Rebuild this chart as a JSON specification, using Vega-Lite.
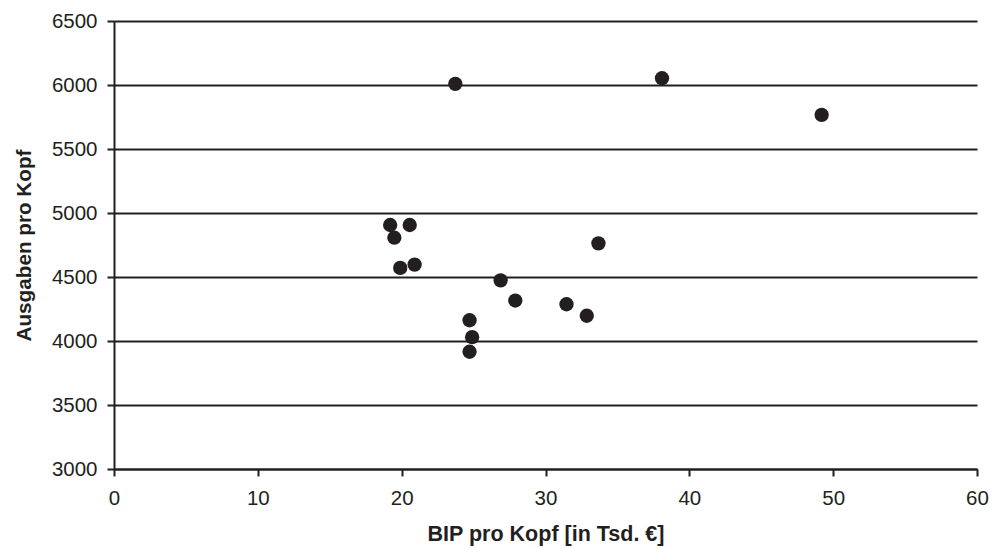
{
  "$schema": "https://vega.github.io/schema/vega-lite/v6.json",
  "autosize": "none",
  "width": 863,
  "height": 448,
  "padding": {"left": 114, "top": 21, "right": 15, "bottom": 79},
  "background": "white",
  "config": {"view": {"stroke": null}, "font": "Liberation Sans"},
  "data": {"values": [
    {"bip": 23.73, "ausgaben": 6009},
    {"bip": 38.1, "ausgaben": 6053},
    {"bip": 49.2, "ausgaben": 5767},
    {"bip": 19.2, "ausgaben": 4906},
    {"bip": 20.56, "ausgaben": 4906},
    {"bip": 19.49, "ausgaben": 4807},
    {"bip": 19.9, "ausgaben": 4571},
    {"bip": 20.9, "ausgaben": 4597},
    {"bip": 33.68, "ausgaben": 4763},
    {"bip": 26.88, "ausgaben": 4474},
    {"bip": 27.9, "ausgaben": 4316},
    {"bip": 31.46, "ausgaben": 4287},
    {"bip": 32.87, "ausgaben": 4197},
    {"bip": 24.72, "ausgaben": 4162},
    {"bip": 24.9, "ausgaben": 4030},
    {"bip": 24.72, "ausgaben": 3916}
  ]},
  "mark": {"type": "point", "filled": true, "shape": "circle", "size": 205, "color": "#231f20", "opacity": 1},
  "encoding": {
    "x": {
      "field": "bip", "type": "quantitative",
      "scale": {"domain": [0, 60], "nice": false, "zero": false},
      "axis": {
        "values": [0, 10, 20, 30, 40, 50, 60],
        "labelFlush": false,
        "labelOverlap": false,
        "title": "BIP pro Kopf [in Tsd. €]",
        "titleFont": "Liberation Sans", "titleFontSize": 21.5, "titleFontWeight": "bold", "titleColor": "#231f20",
        "titlePadding": 15,
        "labelFont": "Liberation Sans", "labelFontSize": 20.5, "labelColor": "#231f20", "labelPadding": 12,
        "domainColor": "#231f20", "domainWidth": 2,
        "tickColor": "#231f20", "tickWidth": 2, "tickSize": 7,
        "grid": false
      }
    },
    "y": {
      "field": "ausgaben", "type": "quantitative",
      "scale": {"domain": [3000, 6500], "nice": false, "zero": false},
      "axis": {
        "values": [3000, 3500, 4000, 4500, 5000, 5500, 6000, 6500],
        "format": "d",
        "labelFlush": false,
        "labelOverlap": false,
        "title": "Ausgaben pro Kopf",
        "titleFont": "Liberation Sans", "titleFontSize": 20.7, "titleFontWeight": "bold", "titleColor": "#231f20",
        "titlePadding": 17,
        "labelFont": "Liberation Sans", "labelFontSize": 20.5, "labelColor": "#231f20", "labelPadding": 10,
        "domainColor": "#231f20", "domainWidth": 2,
        "tickColor": "#231f20", "tickWidth": 2, "tickSize": 7,
        "grid": true, "gridColor": "#231f20", "gridWidth": 2, "gridOpacity": 1
      }
    }
  }
}
